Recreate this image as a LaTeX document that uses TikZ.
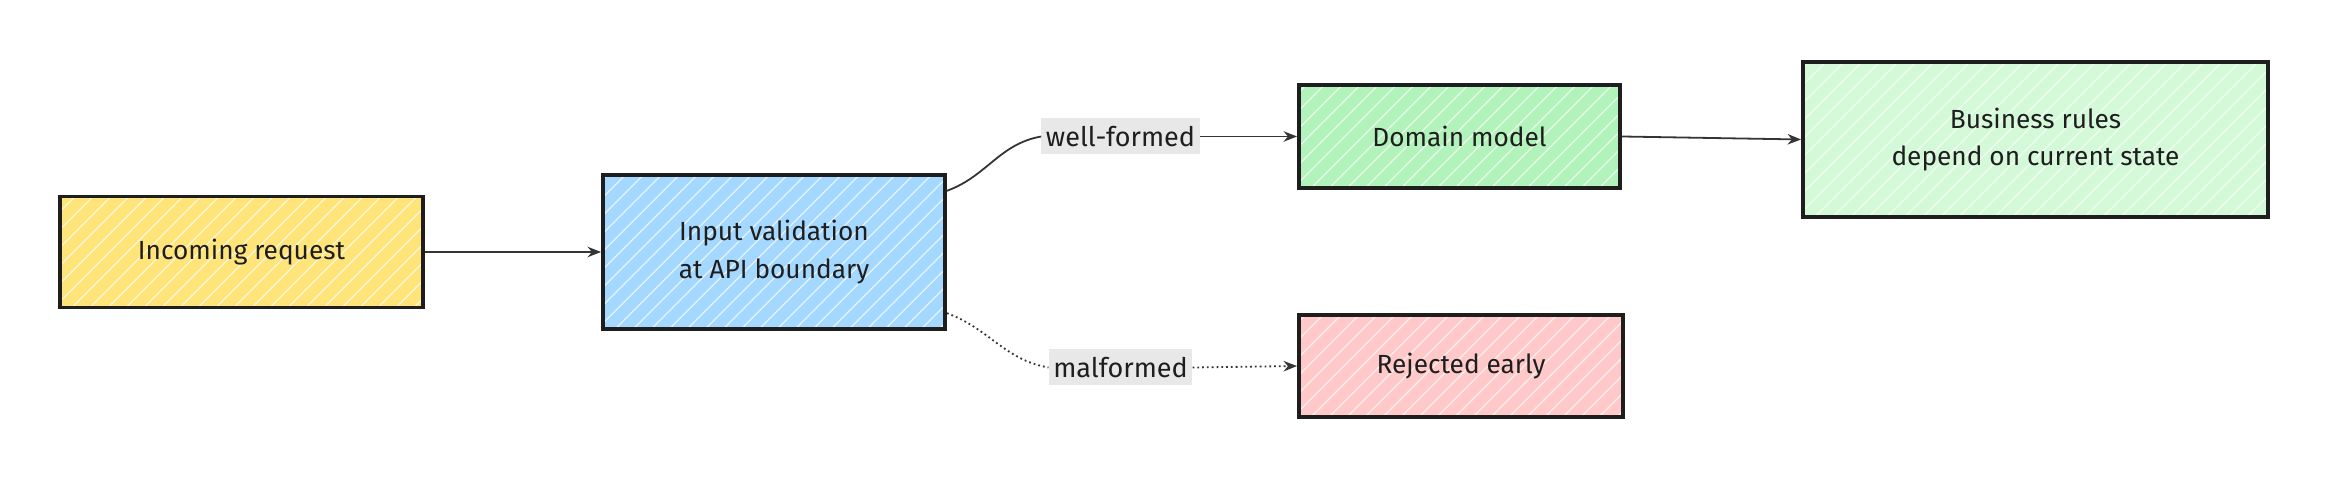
\documentclass[tikz,border=0pt]{standalone}
\usepackage{fontspec}
\setmainfont{Fira Sans}
\usetikzlibrary{arrows.meta}
\definecolor{ink}{HTML}{1E1E1E}
\definecolor{cy}{HTML}{FFE47A}
\definecolor{cb}{HTML}{A5D8FF}
\definecolor{cg}{HTML}{B2F2BB}
\definecolor{cr}{HTML}{FFC9C9}
\definecolor{clg}{HTML}{D3F9D8}
\definecolor{lab}{HTML}{E8E8E8}
\begin{document}
\begin{tikzpicture}[x=1pt,y=-1pt,
  box/.style={draw=ink,line width=2.6pt,align=center,font=\fontsize{17.5}{25}\selectfont,text=ink,
    path picture={\foreach \i in {-400,-388,...,400}{\draw[white,line width=0.9pt,opacity=0.7] (path picture bounding box.south west)++(\i pt,0)--++(160pt,160pt);}}},
  lbl/.style={fill=lab,font=\fontsize{18}{20}\selectfont,text=ink,inner sep=3pt,minimum height=24pt},
  con/.style={draw=ink!90,line width=1.2pt,-{Stealth[length=9pt,width=7pt]}}]
\useasboundingbox (0,0) rectangle (1568,328);
\node[box,fill=cy,minimum width=242pt,minimum height=74pt] (inc) at (161,168) {Incoming request};
\node[box,fill=cb,minimum width=228pt,minimum height=103pt] (val) at (516,168) {Input validation\\at API boundary};
\node[box,fill=cg,minimum width=214pt,minimum height=69pt] (dom) at (973,91) {Domain model};
\node[box,fill=cr,minimum width=216pt,minimum height=68pt] (rej) at (974,244) {Rejected early};
\node[box,fill=clg,minimum width=310pt,minimum height=103pt] (bus) at (1357,93) {Business rules\\depend on current state};
\node[lbl] (wf) at (747,91) {well-formed};
\node[lbl] (mf) at (747,245) {malformed};
\draw[con] (inc.east) -- (val.west);
\draw[draw=ink!90,line width=1.2pt] ([yshift=-12pt]val.north east) to[out=20,in=190] (wf.west);
\draw[con] (wf.east) -- (dom.west);
\draw[draw=ink!90,line width=1.2pt,dotted] ([yshift=12pt]val.south east) to[out=-20,in=170] (mf.west);
\draw[con,dotted] (mf.east) -- (rej.west);
\draw[con] (dom.east) -- (bus.west);
\end{tikzpicture}
\end{document}
